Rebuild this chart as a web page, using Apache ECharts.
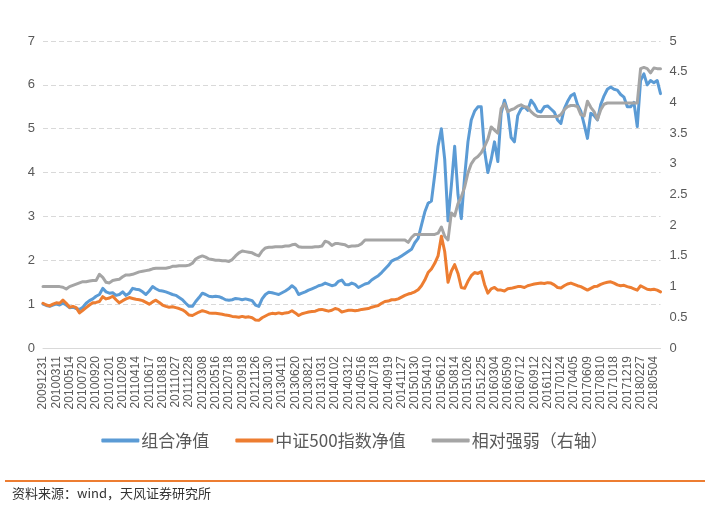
<!DOCTYPE html>
<html><head><meta charset="utf-8">
<script src="https://cdn.jsdelivr.net/npm/echarts@6/dist/echarts.min.js"></script>
<style>html,body{margin:0;padding:0;background:#fff;}#c{width:709px;height:510px;}</style>
</head><body><div id="c"></div>
<script>
// x-axis tick label dates (every 4th sample)
const labelDates = ['20091231','20100311','20100514','20100720','20100920','20101201','20110209','20110414','20110617','20110818','20111027','20111228','20120308','20120516','20120718','20120918','20121126','20130130','20130411','20130620','20130821','20131031','20140102','20140312','20140516','20140718','20140919','20141127','20150130','20150410','20150612','20150814','20151026','20151225','20160304','20160509','20160712','20160912','20161122','20170124','20170405','20170609','20170810','20171018','20171219','20180227','20180504'];
const samplesPerLabel = 4;
const tailSamples = 2;

// 组合净值 (left axis)
const portfolio = [1.0,0.97,0.95,0.98,1.0,0.98,1.02,0.98,0.92,0.93,0.9,0.88,0.93,1.02,1.08,1.12,1.18,1.22,1.36,1.28,1.25,1.26,1.2,1.22,1.28,1.2,1.25,1.36,1.34,1.33,1.28,1.22,1.3,1.4,1.35,1.31,1.3,1.28,1.25,1.22,1.2,1.15,1.1,1.02,0.95,0.95,1.06,1.15,1.25,1.22,1.18,1.17,1.18,1.17,1.14,1.1,1.09,1.1,1.13,1.12,1.1,1.12,1.1,1.08,0.98,0.95,1.12,1.22,1.27,1.26,1.24,1.22,1.26,1.3,1.35,1.42,1.36,1.22,1.25,1.28,1.32,1.35,1.38,1.42,1.44,1.48,1.45,1.42,1.44,1.52,1.55,1.45,1.44,1.48,1.45,1.38,1.42,1.46,1.48,1.55,1.6,1.65,1.72,1.8,1.88,1.98,2.02,2.05,2.1,2.15,2.2,2.25,2.4,2.5,2.8,3.1,3.3,3.35,3.95,4.6,5.0,4.3,2.9,3.7,4.6,3.5,2.95,3.9,4.7,5.2,5.4,5.5,5.5,4.5,4.0,4.3,4.7,4.25,5.35,5.65,5.4,4.8,4.7,5.3,5.45,5.5,5.42,5.65,5.55,5.4,5.38,5.5,5.52,5.45,5.38,5.2,5.12,5.45,5.62,5.75,5.8,5.55,5.4,5.1,4.78,5.35,5.3,5.2,5.55,5.75,5.9,5.95,5.9,5.88,5.78,5.72,5.5,5.5,5.6,5.05,6.1,6.25,6.0,6.1,6.05,6.1,5.8];

// 中证500指数净值 (left axis)
const csi500 = [1.02,0.98,0.96,1.0,1.03,1.02,1.09,1.02,0.93,0.95,0.92,0.8,0.86,0.92,0.98,1.03,1.04,1.06,1.17,1.12,1.14,1.18,1.1,1.03,1.08,1.12,1.15,1.13,1.11,1.1,1.08,1.04,1.0,1.05,1.09,1.04,0.98,0.95,0.93,0.94,0.92,0.9,0.87,0.82,0.75,0.74,0.78,0.82,0.85,0.83,0.8,0.79,0.79,0.78,0.77,0.75,0.74,0.72,0.71,0.7,0.72,0.7,0.71,0.69,0.64,0.63,0.69,0.73,0.77,0.79,0.78,0.8,0.78,0.8,0.81,0.85,0.8,0.74,0.78,0.8,0.82,0.83,0.84,0.87,0.88,0.86,0.84,0.86,0.9,0.88,0.82,0.84,0.86,0.86,0.85,0.86,0.88,0.89,0.9,0.93,0.95,0.97,1.02,1.06,1.07,1.1,1.1,1.12,1.16,1.2,1.23,1.25,1.28,1.33,1.42,1.55,1.72,1.8,1.93,2.1,2.55,2.2,1.5,1.75,1.9,1.7,1.38,1.36,1.52,1.65,1.72,1.7,1.74,1.45,1.25,1.35,1.38,1.32,1.32,1.3,1.35,1.36,1.38,1.4,1.4,1.38,1.42,1.44,1.46,1.47,1.48,1.47,1.49,1.48,1.44,1.38,1.37,1.42,1.46,1.48,1.45,1.42,1.4,1.36,1.32,1.36,1.4,1.41,1.45,1.48,1.5,1.51,1.48,1.44,1.42,1.43,1.4,1.38,1.35,1.32,1.42,1.38,1.34,1.33,1.34,1.32,1.28];

// 相对强弱（右轴）
const relative = [1.0,1.0,1.0,1.0,1.0,1.0,0.99,0.96,1.0,1.02,1.04,1.06,1.08,1.08,1.09,1.1,1.1,1.2,1.15,1.07,1.06,1.1,1.11,1.12,1.16,1.19,1.19,1.2,1.22,1.24,1.25,1.26,1.27,1.29,1.3,1.3,1.3,1.3,1.31,1.33,1.33,1.34,1.34,1.34,1.35,1.38,1.45,1.48,1.5,1.48,1.45,1.44,1.43,1.43,1.42,1.42,1.41,1.44,1.5,1.55,1.58,1.57,1.56,1.55,1.52,1.5,1.58,1.63,1.64,1.64,1.65,1.65,1.65,1.66,1.66,1.68,1.69,1.65,1.64,1.64,1.64,1.64,1.65,1.65,1.66,1.74,1.72,1.67,1.7,1.7,1.69,1.68,1.65,1.66,1.66,1.67,1.7,1.76,1.76,1.76,1.76,1.76,1.76,1.76,1.76,1.76,1.76,1.76,1.76,1.76,1.72,1.8,1.85,1.85,1.85,1.85,1.85,1.85,1.85,1.87,1.97,1.82,1.76,2.2,2.15,2.35,2.46,2.62,2.85,3.0,3.08,3.12,3.18,3.28,3.4,3.6,3.55,3.5,3.9,3.98,3.85,3.88,3.9,3.94,3.96,3.93,3.92,3.85,3.8,3.77,3.77,3.77,3.77,3.77,3.77,3.77,3.8,3.88,3.93,3.95,3.95,3.93,3.8,3.78,4.02,3.92,3.85,3.72,3.88,3.97,3.99,3.99,3.99,3.99,3.99,3.99,3.99,3.99,3.99,3.99,4.55,4.57,4.55,4.48,4.56,4.55,4.55];

const leftTicks = {min:0, max:7, interval:1};
const rightTicks = {min:0, max:5, interval:0.5};

// build category list: each label date followed by unlabeled sample slots
const categories = [];
labelDates.forEach((d, k) => {
  categories.push(d);
  if (k < labelDates.length - 1) for (let j = 1; j < samplesPerLabel; j++) categories.push(d + '#' + j);
});
for (let j = 1; j <= tailSamples; j++) categories.push(labelDates[labelDates.length-1] + '#' + j);

const txt = '#595959';
const chart = echarts.init(document.getElementById('c'), null, {renderer:'canvas'});
chart.setOption({
  animation:false,
  backgroundColor:'#fff',
  grid:{left:43, right:48.5, top:41, bottom:162, containLabel:false},
  legend:{
    data:['组合净值','中证500指数净值','相对强弱（右轴）'],
    left:'center', top:427,
    icon:'roundRect', itemWidth:38, itemHeight:4, itemGap:26,
    textStyle:{fontSize:17, color:txt, fontFamily:'"Noto Sans CJK SC", sans-serif', padding:[0,0,0,-3]}
  },
  xAxis:{
    type:'category', data:categories, boundaryGap:false,
    axisLine:{lineStyle:{color:'#D9D9D9', width:1}},
    axisTick:{show:false},
    axisLabel:{interval:samplesPerLabel-1, rotate:90, color:txt, fontSize:12, margin:8, fontFamily:'"Liberation Sans", Arial, sans-serif'},
    splitLine:{show:false}
  },
  yAxis:[
    {type:'value', min:leftTicks.min, max:leftTicks.max, interval:leftTicks.interval,
     axisLine:{show:false}, axisTick:{show:false},
     axisLabel:{color:txt, fontSize:13, margin:8, fontFamily:'"Liberation Sans", Arial, sans-serif'},
     splitLine:{lineStyle:{color:'#D9D9D9', type:[5,3], width:1}}},
    {type:'value', min:rightTicks.min, max:rightTicks.max, interval:rightTicks.interval,
     axisLine:{show:false}, axisTick:{show:false},
     axisLabel:{color:txt, fontSize:13, margin:9, fontFamily:'"Liberation Sans", Arial, sans-serif'},
     splitLine:{show:false}}
  ],
  series:[
    {name:'组合净值', type:'line', data:portfolio, yAxisIndex:0, showSymbol:false, symbol:'none',
     lineStyle:{color:'#5B9BD5', width:3, join:'round', cap:'round'}, itemStyle:{color:'#5B9BD5'}, z:2},
    {name:'中证500指数净值', type:'line', data:csi500, yAxisIndex:0, showSymbol:false, symbol:'none',
     lineStyle:{color:'#ED7D31', width:3, join:'round', cap:'round'}, itemStyle:{color:'#ED7D31'}, z:3},
    {name:'相对强弱（右轴）', type:'line', data:relative, yAxisIndex:1, showSymbol:false, symbol:'none',
     lineStyle:{color:'#A5A5A5', width:3, join:'round', cap:'round'}, itemStyle:{color:'#A5A5A5'}, z:4}
  ],
  graphic:[
    {type:'line', shape:{x1:5, y1:481, x2:705, y2:481}, style:{stroke:'#ED7D31', lineWidth:2}},
    {type:'text', left:12, top:487, style:{text:'资料来源：wind，天风证券研究所', fontSize:13, fill:'#333', fontFamily:'"Noto Sans CJK SC", sans-serif'}}
  ]
});
</script></body></html>
